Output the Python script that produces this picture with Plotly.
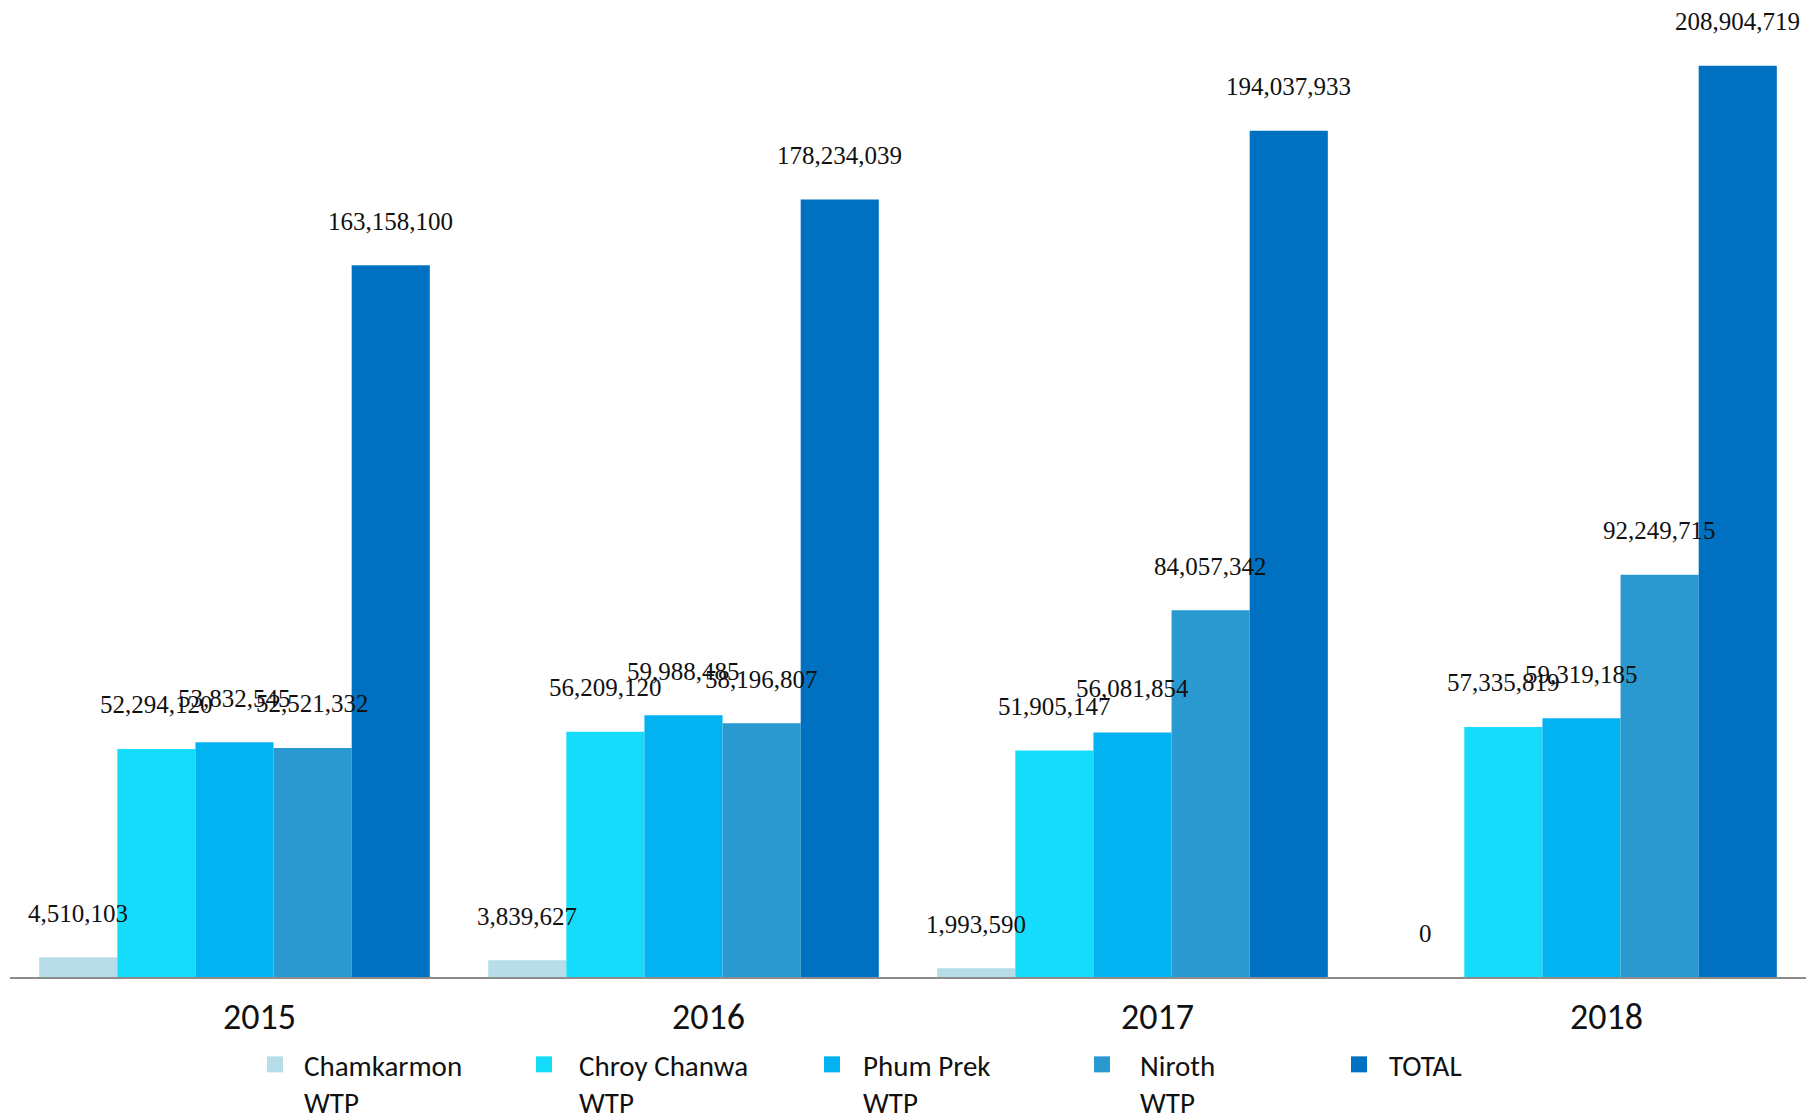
import plotly.graph_objects as go

years = ["2015", "2016", "2017", "2018"]
series_names = ["Chamkarmon<br>WTP", "Chroy Chanwa<br>WTP", "Phum Prek<br>WTP", "Niroth<br>WTP", "TOTAL"]
chamkarmon = [4510103, 3839627, 1993590, 0]
chroy_chanwa = [52294120, 56209120, 51905147, 57335819]
phum_prek = [53832545, 59988485, 56081854, 59319185]
niroth = [52521332, 58196807, 84057342, 92249715]
total = [163158100, 178234039, 194037933, 208904719]

series_values = [chamkarmon, chroy_chanwa, phum_prek, niroth, total]
colors = ["#B7DEE8", "#16DCFC", "#03B2F0", "#2A99CF", "#0070C0"]

W, H = 1806, 1119
ML, MR, MT, MB = 10, 0, 0, 142
BARGAP = 0.13
YMAX = 224e6

plot_w = W - ML - MR
cat_w = plot_w / len(years)
bar_w = cat_w * (1 - BARGAP) / len(series_values)

fig = go.Figure()
legend_text_x = [304, 579, 863, 1140, 1389]
legend_item_w = [48, 60, 52, 66, 50]
for i, (name, vals, col) in enumerate(zip(series_names, series_values, colors)):
    lg = "legend" if i == 0 else f"legend{i+1}"
    fig.add_trace(go.Bar(
        x=years, y=vals, name=name, marker=dict(color=col, line=dict(width=0)),
        showlegend=False, hoverinfo="skip"))
    # legend-only entry with a larger square swatch
    fig.add_trace(go.Scatter(
        x=[None], y=[None], mode="markers", name=name, legend=lg,
        marker=dict(symbol="square", size=18, color=col, line=dict(width=0)),
        hoverinfo="skip"))

annotations = []
n = len(series_values)
for i, vals in enumerate(series_values):
    for j, v in enumerate(vals):
        # x = index of the category on the category axis
        annotations.append(dict(
            x=j, y=v, xref="x", yref="y", text=f"{v:,}", showarrow=False,
            xshift=(i - (n - 1) / 2) * bar_w, yshift=44, yanchor="middle",
            font=dict(family="Palatino Linotype, Book Antiqua, Liberation Serif, serif", size=25, color="#111111")))

legend_font = dict(family="Carlito, Lato, sans-serif", size=29, color="#111111")
layout_legends = {}
for i, (tx, iw) in enumerate(zip(legend_text_x, legend_item_w)):
    key = "legend" if i == 0 else f"legend{i+1}"
    layout_legends[key] = dict(
        x=(tx - iw - 10) / W, y=1 - 1039 / H, xref="container", yref="container",
        xanchor="left", yanchor="top", orientation="h", valign="top", itemwidth=iw,
        font=legend_font, bgcolor="rgba(0,0,0,0)", borderwidth=0)

fig.update_layout(
    width=W, height=H, margin=dict(l=ML, r=MR, t=MT, b=MB, pad=0, autoexpand=False),
    paper_bgcolor="white", plot_bgcolor="white",
    barmode="group", bargap=BARGAP, bargroupgap=0,
    showlegend=True,
    annotations=annotations,
    xaxis=dict(type="category", range=[-0.5, len(years) - 0.5], autorange=False,
               showline=True, linecolor="#8C8C8C", linewidth=2, showgrid=False,
               ticks="", tickfont=dict(family="Carlito, Lato, sans-serif", size=36, color="#111111"),
               ticklabelshift=25, ticklabelstandoff=7, zeroline=False),
    yaxis=dict(range=[0, YMAX], autorange=False, visible=False, showgrid=False, zeroline=False),
    **layout_legends,
)

fig.write_html("out.html", config={"displayModeBar": False},
               post_script="document.body.style.margin='0';document.body.style.overflow='hidden';")
